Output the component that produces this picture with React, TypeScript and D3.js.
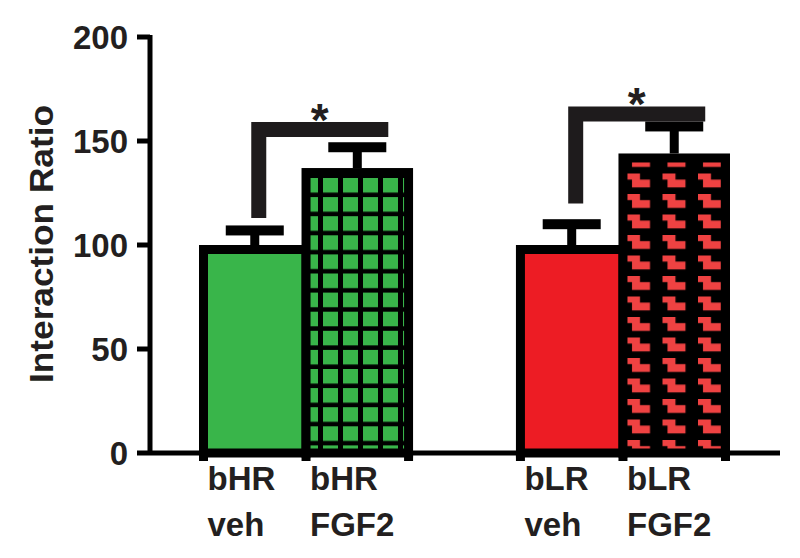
import React, { useEffect, useRef } from 'react';
import * as d3 from 'd3';

// values
const groups = ['bHR', 'bLR'];
const treatments = ['veh', 'FGF2'];
const means = [[100, 137], [100, 144]];
const sems = [[7, 10], [10, 13]];
const yTicks = [0, 50, 100, 150, 200];
// significance bracket per group: level of the top line, level where the left leg stops
const sigLevels = [155.5, 163];
const sigLegEnds = [113, 120];
const sigLabels = ['*', '*'];

const GREEN = '#39b54a';
const RED = '#ed1c24';
const RED_LIGHT = '#ef4242';
const INK = '#231f20';
const FONT = "'Liberation Sans', Arial, sans-serif";

export default function App() {
    const ref = useRef<SVGSVGElement>(null);

    useEffect(() => {
        const svg = d3.select(ref.current);
        svg.selectAll('*').remove();

        const width = 800, height = 558;
        const axisX = 150;

        const y = d3.scaleLinear().domain([0, 200]).range([453, 37]);
        const x0 = d3.scaleBand().domain(groups).range([203.5, 725.5]).paddingInner(0.353).paddingOuter(0);
        const x1 = d3.scaleBand().domain(treatments).range([0, x0.bandwidth()]).padding(0);

        const barStroke = 9;

        // patterns for the FGF2 bars
        const defs = svg.append('defs');
        const grid = defs.append('pattern')
            .attr('id', 'greenGrid')
            .attr('patternUnits', 'userSpaceOnUse')
            .attr('x', 303).attr('y', 178)
            .attr('width', 20).attr('height', 19.1);
        grid.append('rect').attr('width', 20).attr('height', 19.1).attr('fill', '#000');
        grid.append('rect').attr('width', 15).attr('height', 14.6).attr('fill', GREEN);

        const zig = defs.append('pattern')
            .attr('id', 'redZig')
            .attr('patternUnits', 'userSpaceOnUse')
            .attr('x', 627).attr('y', 153)
            .attr('width', 35.5).attr('height', 20.5);
        zig.append('rect').attr('width', 35.5).attr('height', 20.5).attr('fill', '#000');
        zig.append('path')
            .attr('d', 'M0,0 H13 V6 H23 V14 H5 V6 H0 Z')
            .attr('fill', RED_LIGHT);

        const fills = [[GREEN, 'url(#greenGrid)'], [RED, 'url(#redZig)']];

        // bars
        groups.forEach((g, gi) => {
            treatments.forEach((t, ti) => {
                const left = x0(g)! + x1(t)!;
                const top = y(means[gi][ti]) + barStroke / 2;
                svg.append('rect')
                    .attr('x', left)
                    .attr('y', top)
                    .attr('width', x1.bandwidth())
                    .attr('height', y(0) - top)
                    .attr('fill', fills[gi][ti])
                    .attr('stroke', '#000')
                    .attr('stroke-width', barStroke);
            });
        });

        // error bars (upper half only)
        const capW = 58, capH = 10;
        groups.forEach((g, gi) => {
            treatments.forEach((t, ti) => {
                const cx = x0(g)! + x1(t)! + x1.bandwidth() / 2;
                const yTop = y(means[gi][ti] + sems[gi][ti]);
                svg.append('line')
                    .attr('x1', cx).attr('x2', cx)
                    .attr('y1', yTop).attr('y2', y(means[gi][ti]))
                    .attr('stroke', '#000').attr('stroke-width', 9);
                svg.append('rect')
                    .attr('x', cx - capW / 2).attr('y', yTop - capH / 2)
                    .attr('width', capW).attr('height', capH)
                    .attr('fill', '#000');
            });
        });

        // significance brackets
        groups.forEach((g, gi) => {
            const legX = x0(g)! + x1('veh')! + x1.bandwidth() / 2 + 4;
            const rightEnd = x0(g)! + x1('FGF2')! + x1.bandwidth() / 2 + capW / 2 + 2;
            const yl = y(sigLevels[gi]);
            svg.append('text')
                .attr('x', (legX - 7.5 + rightEnd) / 2)
                .attr('y', yl + 6)
                .attr('text-anchor', 'middle')
                .attr('font-family', FONT)
                .attr('font-weight', 'bold')
                .attr('font-size', 46)
                .attr('fill', INK)
                .text(sigLabels[gi]);
            svg.append('path')
                .attr('d', `M${legX},${y(sigLegEnds[gi])} V${yl} H${rightEnd}`)
                .attr('fill', 'none')
                .attr('stroke', '#1e1b1c')
                .attr('stroke-width', 15)
                .attr('stroke-linejoin', 'miter');
        });

        // y axis
        svg.append('line')
            .attr('x1', axisX).attr('x2', axisX)
            .attr('y1', y(200) - 2).attr('y2', y(0) + 2)
            .attr('stroke', '#000').attr('stroke-width', 5);
        yTicks.forEach(v => {
            svg.append('line')
                .attr('x1', axisX - 13).attr('x2', axisX)
                .attr('y1', y(v)).attr('y2', y(v))
                .attr('stroke', '#000').attr('stroke-width', 5);
            svg.append('text')
                .attr('x', 128)
                .attr('y', y(v))
                .attr('dy', '0.36em')
                .attr('text-anchor', 'end')
                .attr('font-family', FONT)
                .attr('font-weight', 'bold')
                .attr('font-size', 33)
                .attr('fill', INK)
                .text(v);
        });

        svg.append('text')
            .attr('transform', `translate(53,244) rotate(-90)`)
            .attr('text-anchor', 'middle')
            .attr('font-family', FONT)
            .attr('font-weight', 'bold')
            .attr('font-size', 33)
            .attr('fill', INK)
            .attr('textLength', 278)
            .attr('lengthAdjust', 'spacingAndGlyphs')
            .text('Interaction Ratio');

        // x axis
        svg.append('line')
            .attr('x1', axisX).attr('x2', 780)
            .attr('y1', y(0)).attr('y2', y(0))
            .attr('stroke', '#000').attr('stroke-width', 5);

        groups.forEach(g => {
            treatments.forEach((t, ti) => {
                const left = x0(g)! + x1(t)!;
                const edges = ti === 0 ? [left, left + x1.bandwidth()] : [left + x1.bandwidth()];
                edges.forEach(e => {
                    svg.append('line')
                        .attr('x1', e).attr('x2', e)
                        .attr('y1', y(0)).attr('y2', y(0) + 8)
                        .attr('stroke', '#000').attr('stroke-width', barStroke);
                });
                const label = svg.append('text')
                    .attr('font-family', FONT)
                    .attr('font-weight', 'bold')
                    .attr('font-size', 33)
                    .attr('fill', INK);
                label.append('tspan').attr('x', left + 4).attr('y', 490).text(g);
                label.append('tspan').attr('x', left + 4).attr('y', 536).text(t);
            });
        });

        svg.attr('width', width).attr('height', height);
    }, []);

    return (
        <div>
            <style>{'body{margin:0;background:#fff}'}</style>
            <svg ref={ref} width={800} height={558} style={{ display: 'block' }} />
        </div>
    );
}
